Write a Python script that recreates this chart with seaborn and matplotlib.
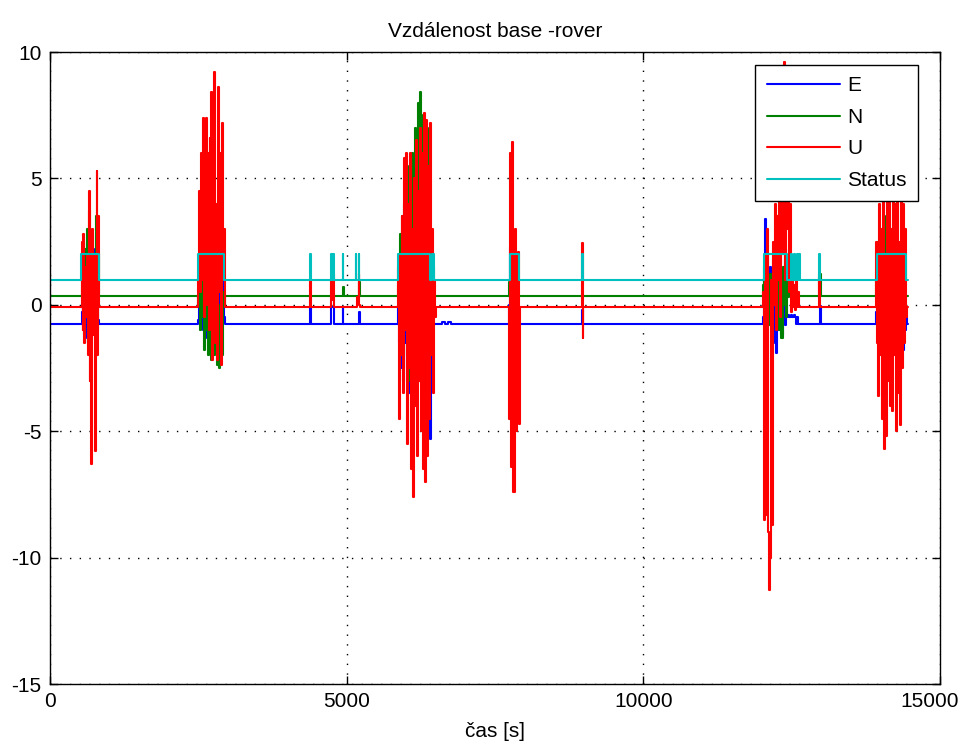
# Import libraries
import numpy as np
import pandas as pd
import matplotlib
matplotlib.use("Agg")
import matplotlib.pyplot as plt
import matplotlib.transforms as mtransforms
import seaborn as sns

sns.set_theme(style="ticks")
plt.rcParams['font.family'] = ['Liberation Sans', 'DejaVu Sans']
plt.rcParams['font.size'] = 15
plt.rcParams['axes.unicode_minus'] = False
plt.rcParams['text.color'] = 'black'
plt.rcParams['axes.labelcolor'] = 'black'

# -------------------------------
# Data
# -------------------------------
series_names = ['E', 'N', 'U', 'Status']
t_end = 14460

# quiet baselines between the bursts
E_base = -0.75
N_base = 0.35
U_base = -0.1

# burst windows [s]
burst_start = [520, 2477, 5850, 7720, 12000, 13900]
burst_stop = [830, 2949, 6500, 7920, 12640, 14440]

E_bursts = [
    [-0.75, -0.3, 0.5, -1.0, 0.8, -1.3, 1.0, 0.0, -1.5, 2.3, -0.5, 1.5, -0.8, 0.5, 2.2, -1.0, 1.8, 0.2, -0.8, 0.5, -0.6, -0.75],
    [-0.75, -0.6, 0.0, 1.5, -0.5, 1.2, -1.0, 0.5, -1.3, 0.0, 2.0, -0.8, 0.8, -1.2, 1.5, -0.5, 0.3, -1.0, 2.2, -0.3, 1.0, -1.2, 2.3, 0.0, 1.5, -0.8, 0.5, 1.8, -0.5, -0.75],
    [-0.75, 0.0, -1.5, 0.5, -2.5, 1.0, -3.0, 0.3, -1.5, 2.0, -2.5, 1.0, -3.5, 2.9, -1.0, -4.0, 1.5, -2.0, 0.5, -3.0, 2.0, -1.5, 0.0, -2.5, 1.0, -3.0, 0.5, -1.0, -2.0, 0.8, -3.5, 0.0, -1.5, -5.3, 0.0, -2.0, -0.75, -0.75, -0.75, -0.75],
    [-0.75, 0.0, 2.3, 0.5, 2.7, -0.5, 1.0, 0.0, -0.5, -0.75, -0.75, -0.75],
    [-0.75, -0.5, 1.0, 3.4, -1.0, 2.0, 0.5, -0.3, 1.5, -0.5, 0.8, -1.5, 0.3, -0.8, -1.9, 0.5, -1.0, 0.0, -0.5, -1.2, 1.0, -0.3, -0.8, 0.0, -0.5, -0.4, -0.5, -0.5, -0.4, -0.5, -0.5, -0.4, -0.5, -0.75, -0.5, -0.75, -0.75, -0.75],
    [-0.75, -0.3, 2.2, -1.0, 1.0, -1.5, 0.5, -0.5, 1.5, -1.2, 0.0, -1.0, 1.0, -1.5, 0.3, -0.8, -1.3, 0.8, -1.0, 0.5, -1.5, 0.0, 1.0, -1.0, -1.8, 0.5, -1.5, 0.3, -1.8, 0.0, -1.0, -0.5, -0.75],
]
N_bursts = [
    [0.35, 2.0, 1.0, 2.5, -1.2, 2.2, 0.5, 3.0, -1.5, 3.7, -0.5, 1.5, 0.2, 2.8, -1.0, 2.0, 0.0, 3.5, 1.0, -1.0, 2.0, 0.35],
    [0.35, 0.0, 1.2, -1.0, 0.5, -0.5, 1.5, -1.8, 0.2, -1.0, 0.8, -2.0, 0.0, -1.5, 1.0, -2.2, -0.5, 0.5, -2.0, 0.3, -1.0, -2.4, 0.0, -2.5, -0.8, 1.5, -2.0, 0.5, 0.0, 0.35],
    [0.35, 0.8, 2.0, 2.8, 1.0, 3.5, -1.0, 4.0, 2.0, 5.0, -2.0, 3.0, 5.5, -3.0, 4.5, 6.0, -1.5, 5.0, 7.0, -2.5, 6.5, 8.0, -3.0, 8.4, 4.0, -2.0, 7.5, 3.0, -4.0, 6.0, 5.0, -3.5, 7.0, 2.0, -1.0, 0.5, 1.5, 0.35, 0.35, 0.35],
    [0.35, 0.9, 0.5, -1.0, 1.0, -2.5, -3.0, 0.5, -2.0, 0.35, 0.35, 0.35],
    [0.35, 0.8, 1.5, -0.5, 1.0, 0.0, 0.5, -0.8, 1.2, 0.3, -0.5, 1.8, 0.0, 1.5, -0.3, 2.0, 0.5, -1.0, 2.7, -1.3, 1.5, 0.0, 2.2, -0.5, 1.0, 0.3, 0.35, 1.0, 0.35, 0.35, 0.8, 0.35, 0.35, 0.35, 0.35, 0.35, 0.35, 0.35],
    [0.35, 1.0, 2.5, -0.5, 1.5, -1.7, 2.0, 0.5, 3.0, -1.0, 1.0, 3.5, -0.5, 2.0, -1.2, 1.5, 0.0, 2.5, -1.0, 1.8, 0.5, -0.8, 2.0, -1.5, 1.0, 0.0, 1.5, -0.5, 1.0, 0.3, 0.35, 0.35, 0.35],
]
U_bursts = [
    [-0.1, 2.5, -1.0, 2.8, -1.5, 1.5, -0.5, 2.0, -2.0, 4.5, -3.0, 1.0, -6.3, 3.0, -1.2, 2.0, -5.8, 0.5, 5.3, -2.0, 3.5, -0.1],
    [-0.1, 1.0, 4.5, 0.5, 6.0, 1.0, 7.4, -0.5, 5.5, 7.4, 0.0, 6.0, -1.0, 6.6, 2.0, 8.4, -2.2, 5.0, 9.2, -1.5, 4.0, -2.2, 8.6, 0.5, 6.0, -2.4, 7.2, 1.0, 3.0, -0.1],
    [-0.1, 1.5, -4.5, 2.0, -2.0, 3.5, -3.5, 5.8, -1.0, 6.0, -5.5, 4.0, -2.5, 6.0, -6.5, 3.0, -7.6, 5.0, -4.0, 6.5, -6.0, 4.5, -3.0, 7.0, -5.0, 6.0, -6.5, 7.6, -7.0, 7.3, -6.0, 5.5, -4.5, 7.2, -2.0, 3.0, -3.5, 1.0, -0.5, -0.1],
    [-0.1, -4.5, 6.0, -6.4, 6.45, -7.4, 3.0, -5.0, 2.0, 2.1, -4.7, -0.1],
    [-0.1, 0.5, -8.5, 2.0, -8.3, 3.0, -9.0, -11.3, -10.0, 1.0, -8.7, 2.5, 0.0, 4.0, -1.0, 3.5, 1.0, 4.2, -0.5, 5.0, 2.0, 9.6, 1.0, 5.5, 3.0, 6.0, 0.5, 4.0, -0.3, 1.5, -0.1, 0.8, -0.2, 1.0, -0.1, 0.5, -0.1, -0.1],
    [-0.1, 2.5, -1.5, -3.6, 4.0, -2.0, 3.0, -4.5, 5.0, -5.7, 2.0, -5.2, 4.5, -3.0, 6.0, -4.0, 3.0, -4.2, 5.5, -2.0, 4.0, -5.0, 6.0, -3.5, 2.5, -4.75, 5.0, -2.5, 4.0, -1.5, 3.0, -0.5, -0.1],
]

# isolated spikes outside the bursts (time, value)
E_spike_t = [4380, 4395, 4735, 4790, 4930, 4945, 5200, 5230, 6600, 6650, 6700, 6750, 8960, 8990, 12975, 12990]
E_spike_v = [-0.05, -0.75, -0.1, -0.75, -0.1, -0.75, -0.3, -0.75, -0.7, -0.75, -0.68, -0.75, -0.2, -0.75, -0.05, -0.75]
N_spike_t = [4930, 4950, 5200, 5225, 12960, 12990]
N_spike_v = [0.7, 0.35, 0.9, 0.35, 1.2, 0.35]
U_spike_t = [4380, 4395, 4735, 4750, 4770, 4790, 5180, 5200, 5215, 5225, 8960, 8975, 8990, 12965, 12985]
U_spike_v = [1.0, -0.1, 1.0, 0.2, 1.2, -0.1, 0.3, 1.2, 0.0, -0.1, 2.45, -1.3, -0.1, 1.0, -0.1]

# Status: 1 = float, 2 = fix; intervals where it is 2
status_on = [530, 2495, 4380, 4735, 4770, 4930, 5150, 5200, 5870, 6440, 7750, 8960, 12030, 12490, 12545, 12595, 12630, 12960, 13935]
status_off = [825, 2930, 4395, 4750, 4785, 4945, 5165, 5215, 6400, 6480, 7900, 8990, 12420, 12505, 12560, 12610, 12645, 12975, 14420]


def build(base, bursts, spike_t, spike_v):
    t = [0.0, float(t_end)]
    v = [base, base]
    for start, stop, vals in zip(burst_start, burst_stop, bursts):
        t += list(np.linspace(start, stop, len(vals)))
        v += list(vals)
    t += spike_t
    v += spike_v
    order = np.argsort(t, kind='stable')
    return np.array(t)[order], np.array(v)[order]


E_t, E_v = build(E_base, E_bursts, E_spike_t, E_spike_v)
N_t, N_v = build(N_base, N_bursts, N_spike_t, N_spike_v)
U_t, U_v = build(U_base, U_bursts, U_spike_t, U_spike_v)
S_t = [0.0] + [x for pair in zip(status_on, status_off) for x in pair] + [float(t_end)]
S_v = [1] + [x for _ in status_on for x in (2, 1)] + [1]

frames = []
for name, tt, vv in zip(series_names, [E_t, N_t, U_t, S_t], [E_v, N_v, U_v, S_v]):
    frames.append(pd.DataFrame({'cas': tt, 'hodnota': vv, 'serie': name}))
df = pd.concat(frames, ignore_index=True)

palette = {'E': (0, 0, 1), 'N': (0, 0.5, 0), 'U': (1, 0, 0), 'Status': (0, 0.75, 0.75)}

# -------------------------------
# Plot
# -------------------------------
fig = plt.figure(figsize=(9.66, 7.47), dpi=100)
ax = fig.add_axes([50 / 966, 1 - 684 / 747, 890 / 966, 632 / 747])

sns.lineplot(data=df, x='cas', y='hodnota', hue='serie', hue_order=series_names,
             palette=palette, estimator=None, sort=False, drawstyle='steps-post',
             linewidth=1.5, legend=False, ax=ax)

ax.set_xlim(0, 15000)
ax.set_ylim(-15, 10)
ax.set_xticks([0, 5000, 10000, 15000])
ax.set_yticks([-15, -10, -5, 0, 5, 10])
ax.grid(True, color='black', linestyle=(0, (1, 6)), linewidth=1.0)
ax.tick_params(direction='in', length=6, width=1, top=True, right=True,
               labelsize=15, pad=6, colors='black')
for sp in ax.spines.values():
    sp.set_color('black')
    sp.set_linewidth(1.0)
    sp.set_visible(True)

# keep the last x tick label inside the figure
last = ax.get_xticklabels()[-1]
last.set_transform(last.get_transform() +
                   mtransforms.ScaledTranslation(-10 / 100, 0, fig.dpi_scale_trans))

ax.set_title('Vzdálenost base -rover', fontsize=15, pad=11)
ax.set_xlabel('čas [s]', fontsize=15, labelpad=8)
ax.set_ylabel('')

leg = ax.legend(ax.get_lines()[:4], series_names, loc='upper right',
                bbox_to_anchor=((918 - 50) / 890, (684 - 65) / 632), borderaxespad=0,
                fancybox=False, framealpha=1, edgecolor='black', fontsize=15,
                handlelength=3.5, handletextpad=0.35, labelspacing=0.6, borderpad=0.55)
leg.get_frame().set_linewidth(1.0)

fig.savefig('out.png', dpi=100)
